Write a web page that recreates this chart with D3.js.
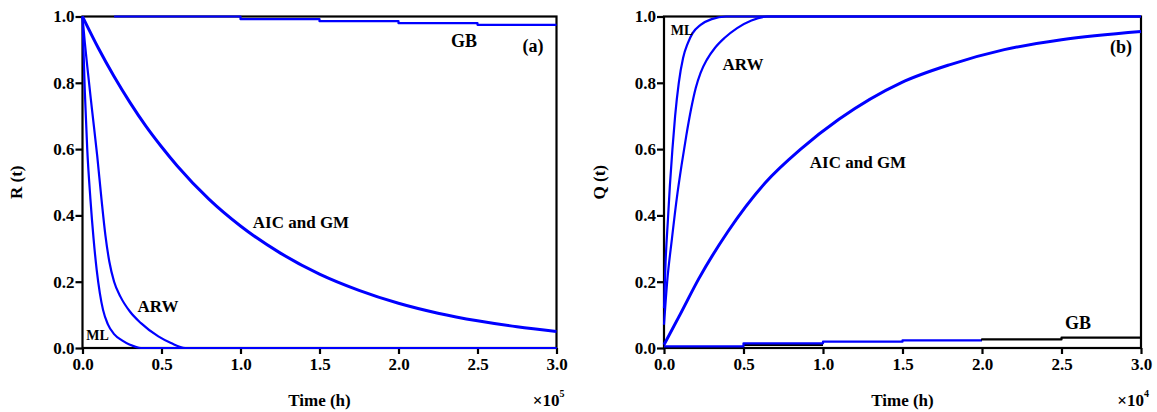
<!DOCTYPE html>
<html>
<head>
<meta charset="utf-8">
<script src="https://cdn.jsdelivr.net/npm/d3@7"></script>
<style>
html,body{margin:0;padding:0;background:#fff;}
svg text{font-family:"Liberation Serif","Tinos","Times New Roman","DejaVu Serif",serif !important;font-weight:bold;fill:#000;}
</style>
</head>
<body>
<svg id="chart" width="1157" height="412"></svg>
<script>
// ---------- data ----------
const yTicks = [0.0, 0.2, 0.4, 0.6, 0.8, 1.0];
const xTicks = [0.0, 0.5, 1.0, 1.5, 2.0, 2.5, 3.0];

// Panel (a): R(t), time in units of 1e5 h
const aMLt  = [0, 0.005, 0.015, 0.03, 0.05, 0.07, 0.09, 0.11, 0.13, 0.16, 0.2, 0.25, 0.3, 0.37, 3.0];
const aMLR  = [1.0, 0.92, 0.77, 0.6, 0.45, 0.33, 0.235, 0.165, 0.115, 0.072, 0.042, 0.023, 0.01, 0.0, 0.0];
const aARWt = [0, 0.015, 0.03, 0.06, 0.093, 0.12, 0.145, 0.17, 0.2, 0.24, 0.3, 0.37, 0.48, 0.56, 0.65, 3.0];
const aARWR = [1.0, 0.92, 0.85, 0.72, 0.58, 0.45, 0.34, 0.26, 0.2, 0.155, 0.11, 0.075, 0.035, 0.015, 0.0, 0.0];
const aAICt = [0, 0.1, 0.2, 0.3, 0.4, 0.5, 0.6, 0.8, 1.0, 1.25, 1.5, 1.75, 2.0, 2.25, 2.5, 2.75, 3.0];
const aAICR = [1.0, 0.905, 0.819, 0.741, 0.670, 0.607, 0.549, 0.449, 0.368, 0.287, 0.223, 0.174, 0.135, 0.105, 0.082, 0.064, 0.050];
const aGBt  = [0.2, 1.0, 1.0, 1.5, 1.5, 2.0, 2.0, 2.5, 2.5, 3.0];
const aGBR  = [1.0, 1.0, 0.992, 0.992, 0.986, 0.986, 0.98, 0.98, 0.975, 0.975];

// Panel (b): Q(t), time in units of 1e4 h
const bMLt  = [0, 0.01, 0.025, 0.037, 0.053, 0.07, 0.093, 0.12, 0.15, 0.18, 0.23, 0.3, 0.39, 3.0];
const bMLQ  = [0.12, 0.26, 0.39, 0.49, 0.6, 0.7, 0.8, 0.875, 0.92, 0.95, 0.975, 0.992, 1.0, 1.0];
const bARWt = [0, 0.02, 0.05, 0.08, 0.11, 0.14, 0.17, 0.2, 0.23, 0.27, 0.32, 0.38, 0.46, 0.55, 0.65, 3.0];
const bARWQ = [0.07, 0.2, 0.33, 0.45, 0.55, 0.64, 0.72, 0.785, 0.83, 0.87, 0.905, 0.935, 0.965, 0.988, 1.0, 1.0];
const bAICt = [0, 0.1, 0.22, 0.4, 0.64, 0.86, 1.1, 1.49, 1.8, 2.14, 2.5, 3.0];
const bAICQ = [0.01, 0.1, 0.21, 0.35, 0.5, 0.6, 0.69, 0.8, 0.855, 0.9, 0.93, 0.955];
const bGBt  = [0, 0.5, 0.5, 1.0, 1.0, 1.5, 1.5, 2.0];
const bGBQ  = [0.005, 0.005, 0.014, 0.014, 0.019, 0.019, 0.023, 0.023];
const bGBt2 = [0.5, 1.0];
const bGBQ2 = [0.009, 0.009];
const bGBt3 = [2.0, 2.0, 2.5, 2.5, 3.0];
const bGBQ3 = [0.023, 0.026, 0.026, 0.031, 0.031];

const panels = [
  {left: 82.5, right: 556.5, yTitle: "R (t)", yTitleX: 16, exp: "5",
   series: [
     {t: aGBt, v: aGBR, w: 2.2, c: "#0000ff"},
     {t: aAICt, v: aAICR, w: 3, c: "#0000ff"},
     {t: aARWt, v: aARWR, w: 2.2, c: "#0000ff"},
     {t: aMLt, v: aMLR, w: 2.2, c: "#0000ff"}
   ],
   labels: [
     {text: "GB", x: 464, y: 41, s: 18},
     {text: "(a)", x: 533, y: 46, s: 18},
     {text: "AIC and GM", x: 301, y: 222, s: 17},
     {text: "ARW", x: 158, y: 306, s: 17},
     {text: "ML", x: 97.5, y: 335, s: 14}
   ]},
  {left: 664, right: 1141, yTitle: "Q (t)", yTitleX: 599, exp: "4",
   series: [
     {t: bGBt2, v: bGBQ2, w: 2.2, c: "#000000"},
     {t: bGBt, v: bGBQ, w: 2.2, c: "#0000ff"},
     {t: bGBt3, v: bGBQ3, w: 2.2, c: "#000000"},
     {t: bAICt, v: bAICQ, w: 3, c: "#0000ff"},
     {t: bARWt, v: bARWQ, w: 2.2, c: "#0000ff"},
     {t: bMLt, v: bMLQ, w: 2.2, c: "#0000ff"}
   ],
   labels: [
     {text: "ML", x: 682, y: 30, s: 14},
     {text: "ARW", x: 743, y: 64, s: 17},
     {text: "AIC and GM", x: 858, y: 162, s: 17},
     {text: "(b)", x: 1121, y: 47, s: 18},
     {text: "GB", x: 1078, y: 323, s: 18}
   ]}
];

const svg = d3.select("#chart");
const plotTop = 16.5, plotBottom = 348;
const FONT = "'Liberation Serif','Tinos','Times New Roman','DejaVu Serif',serif";

panels.forEach(p => {
  const x = d3.scaleLinear().domain([0, 3]).range([p.left, p.right]);
  const y = d3.scaleLinear().domain([0, 1]).range([plotBottom, plotTop]);
  const g = svg.append("g").attr("font-family", FONT);

  // frame
  g.append("rect").attr("x", p.left).attr("y", plotTop)
    .attr("width", p.right - p.left).attr("height", plotBottom - plotTop)
    .attr("fill", "none").attr("stroke", "#000").attr("stroke-width", 2.2);

  // axes
  const xa = g.append("g").attr("transform", `translate(0,${plotBottom})`)
    .call(d3.axisBottom(x).tickValues(xTicks).tickFormat(d3.format(".1f")).tickSize(6).tickPadding(4));
  const ya = g.append("g").attr("transform", `translate(${p.left},0)`)
    .call(d3.axisLeft(y).tickValues(yTicks).tickFormat(d3.format(".1f")).tickSize(7).tickPadding(1));
  [xa, ya].forEach(a => {
    a.attr("font-family", FONT);
    a.select(".domain").remove();
    a.selectAll(".tick line").attr("stroke", "#000").attr("stroke-width", 2.2);
    a.selectAll(".tick text").attr("font-size", 17).attr("fill", "#000")
      .attr("font-family", FONT).attr("font-weight", "bold");
  });

  // series
  const line = d3.line().x(d => x(d[0])).y(d => y(d[1]));
  p.series.forEach(s => {
    const pts = s.t.map((t, i) => [t, s.v[i]]);
    const isStep = s.t.some((t, i) => i > 0 && t === s.t[i - 1]);
    g.append("path").attr("d", (isStep ? line.curve(d3.curveLinear) : line.curve(d3.curveMonotoneX))(pts))
      .attr("fill", "none").attr("stroke", s.c).attr("stroke-width", s.w)
      .attr("stroke-linejoin", "round");
  });

  // labels (pixel-placed annotations)
  p.labels.forEach(l => {
    g.append("text").attr("x", l.x).attr("y", l.y)
      .attr("text-anchor", "middle").attr("dominant-baseline", "central")
      .attr("font-size", l.s).text(l.text);
  });

  // axis titles
  g.append("text").attr("x", (p.left + p.right) / 2).attr("y", 400)
    .attr("text-anchor", "middle").attr("dominant-baseline", "central")
    .attr("font-size", 17).text("Time (h)");
  const ex = g.append("text").attr("x", p.right + 8).attr("y", 400)
    .attr("text-anchor", "end").attr("dominant-baseline", "central")
    .attr("font-size", 17);
  ex.append("tspan").text("×10");
  ex.append("tspan").attr("dy", -7).attr("font-size", 10).text(p.exp);
  g.append("text").attr("transform", `translate(${p.yTitleX},${(plotTop + plotBottom) / 2}) rotate(-90)`)
    .attr("text-anchor", "middle").attr("dominant-baseline", "central")
    .attr("font-size", 17).text(p.yTitle);
});
</script>
</body>
</html>
